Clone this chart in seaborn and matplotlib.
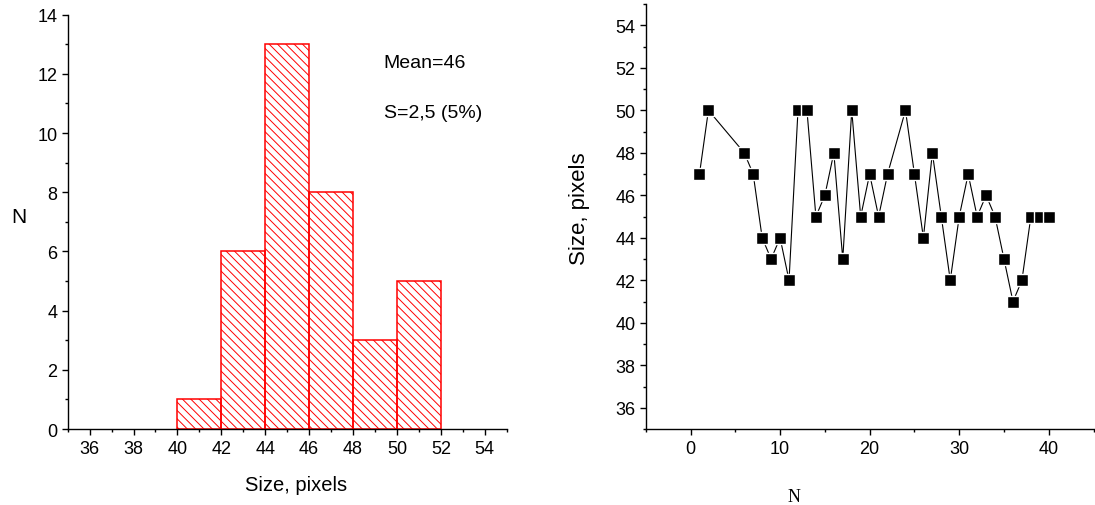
import numpy as np
import matplotlib
matplotlib.use('Agg')
import matplotlib.pyplot as plt
from matplotlib.ticker import MultipleLocator
import seaborn as sns

n_idx = [1, 2, 6, 7, 8, 9, 10, 11, 12, 13, 14, 15, 16, 17, 18, 19, 20, 21,
         22, 24, 25, 26, 27, 28, 29, 30, 31, 32, 33, 34, 35, 36, 37, 38, 39, 40]
sizes = [47, 50, 48, 47, 44, 43, 44, 42, 50, 50, 45, 46, 48, 43, 50, 45, 47, 45,
         47, 50, 47, 44, 48, 45, 42, 45, 47, 45, 46, 45, 43, 41, 42, 45, 45, 45]
bin_edges = [40, 42, 44, 46, 48, 50, 52]
mean_txt = 'Mean=46'
s_txt = 'S=2,5 (5%)'

sns.set_style('ticks')
plt.rcParams['font.family'] = ['Liberation Sans', 'DejaVu Sans']
plt.rcParams['text.color'] = 'black'
plt.rcParams['axes.labelcolor'] = 'black'
plt.rcParams['hatch.linewidth'] = 0.7
plt.rcParams['xtick.direction'] = 'out'
plt.rcParams['ytick.direction'] = 'out'

fig = plt.figure(figsize=(10.95, 5.06), dpi=100)
ax1 = fig.add_axes([0.0618, 0.150, 0.401, 0.819])
ax2 = fig.add_axes([0.5897, 0.150, 0.409, 0.840])

# histogram
sns.histplot(x=sizes, bins=bin_edges, fill=False, color='red', hatch='\\\\\\\\',
             linewidth=1.1, ax=ax1)
ax1.set_xlim(35, 55)
ax1.set_ylim(0, 14)
ax1.xaxis.set_major_locator(MultipleLocator(2))
ax1.xaxis.set_minor_locator(MultipleLocator(1))
ax1.yaxis.set_major_locator(MultipleLocator(2))
ax1.yaxis.set_minor_locator(MultipleLocator(1))
ax1.set_xticks(range(36, 55, 2))
ax1.set_xlabel('Size, pixels', fontsize=14.5)
ax1.set_ylabel('N', fontsize=15, rotation=0)
ax1.yaxis.set_label_coords(-0.11, 0.49)
ax1.xaxis.set_label_coords(0.52, -0.11)
ax1.text(49.4, 12.4, mean_txt, fontsize=14, va='center')
ax1.text(49.4, 10.7, s_txt, fontsize=14, va='center')

# size vs measurement number
sns.lineplot(x=n_idx, y=sizes, color='black', linewidth=0.8, marker='s',
             markersize=8.5, markeredgecolor='white', markeredgewidth=1.0, ax=ax2)
ax2.set_xlim(-5, 45)
ax2.set_ylim(35, 55)
ax2.xaxis.set_major_locator(MultipleLocator(10))
ax2.xaxis.set_minor_locator(MultipleLocator(5))
ax2.yaxis.set_major_locator(MultipleLocator(2))
ax2.yaxis.set_minor_locator(MultipleLocator(1))
ax2.set_yticks(range(36, 55, 2))
ax2.set_xlabel('N', fontsize=13, family=['Liberation Serif', 'DejaVu Serif'])
ax2.xaxis.set_label_coords(0.331, -0.138)
ax2.set_ylabel('Size, pixels', fontsize=16)
ax2.yaxis.set_label_coords(-0.125, 0.52)

for ax in (ax1, ax2):
    sns.despine(ax=ax)
    for sp in ax.spines.values():
        sp.set_linewidth(1.0)
        sp.set_color('black')
    ax.tick_params(which='major', length=4, width=1.0, labelsize=13, colors='black')
    ax.tick_params(which='minor', length=2.5, width=1.0, colors='black')

fig.savefig('out.png', dpi=100)
